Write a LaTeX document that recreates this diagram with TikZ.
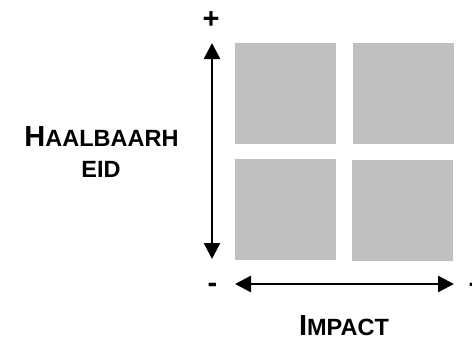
\documentclass[tikz,border=0pt]{standalone}
\usepackage{fontspec}
\setmainfont{Liberation Sans}
\usetikzlibrary{arrows.meta}

\newcommand{\fakesc}[2]{{\fontsize{29}{31}\selectfont #1}{\fontsize{23.5}{31}\selectfont #2}}

\begin{document}
\begin{tikzpicture}[x=1pt,y=-1pt,font=\bfseries\fontsize{29}{31}\selectfont]
        \tikzstyle{quad} = [draw=none,fill=black!25,minimum size=101pt,inner sep=0pt]
        \tikzstyle{axis} = [line width=2.5pt,{Triangle[length=16pt,width=16pt]}-{Triangle[length=16pt,width=16pt]}]
        \useasboundingbox (0,0) rectangle (472,338);
        \foreach \l/\x/\y in {tl/285.5/93.5, tr/403.5/93.5, bl/285.5/209.5, br/402.5/210.5} {
          \node[quad] (\l) at (\x,\y) {};
        }

        \coordinate (vtop) at (212,43);
        \coordinate (vbot) at (212,259);
        \coordinate (hleft) at (235,284);
        \coordinate (hright) at (454,284);
        \draw[axis] (vtop) -- (vbot);
        \draw[axis] (hleft) -- (hright);

        \node[anchor=base,inner sep=0pt] (vplus) at (211,28) {+};
        \node[anchor=base,inner sep=0pt] (vmin) at (212.5,292) {-};
        \node[anchor=base,inner sep=0pt] (hplus) at (477,294) {+};

        \node[anchor=base,inner sep=0pt] (haal) at (101.5,146) {\fakesc{H}{AALBAARH}};
        \node[anchor=base,inner sep=0pt] (eid) at (101,177) {\fakesc{}{EID}};
        \node[anchor=base,inner sep=0pt] (impact) at (344,335.5) {\fakesc{I}{MPACT}};
\end{tikzpicture}
\end{document}
